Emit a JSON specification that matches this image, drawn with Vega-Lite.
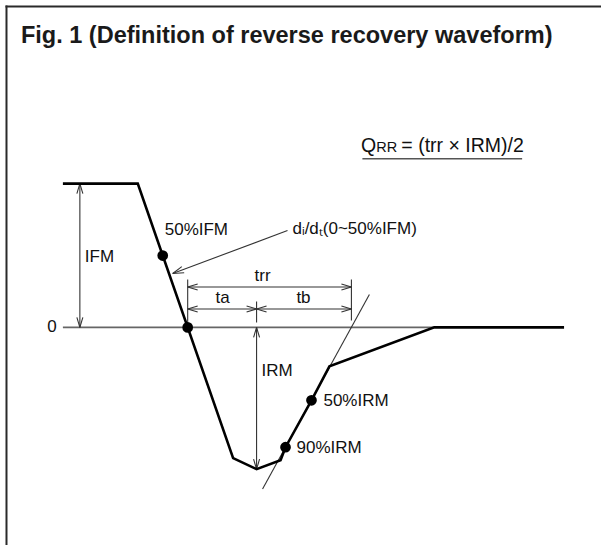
{
  "$schema": "https://vega.github.io/schema/vega-lite/v6.json",
  "width": 602,
  "height": 546,
  "autosize": {"type": "fit", "contains": "padding"},
  "padding": 0,
  "background": "white",
  "config": {"view": {"stroke": null}},
  "datasets": {
    "segs": [
      {"k": "frame", "x": 6.5, "y": 5.5, "x2": 6.5, "y2": 546},
      {"k": "frame", "x": 5.5, "y": 6.5, "x2": 602, "y2": 6.5},
      {"k": "zero", "x": 63, "y": 328, "x2": 435, "y2": 328},
      {"k": "under", "x": 363, "y": 159, "x2": 523, "y2": 159},
      {"k": "dim", "x": 80, "y": 184, "x2": 80, "y2": 328},
      {"k": "dim", "x": 80, "y": 184, "x2": 77, "y2": 194},
      {"k": "dim", "x": 80, "y": 184, "x2": 83, "y2": 194},
      {"k": "dim", "x": 80, "y": 328, "x2": 77, "y2": 318},
      {"k": "dim", "x": 80, "y": 328, "x2": 83, "y2": 318},
      {"k": "dim", "x": 257, "y": 328, "x2": 257, "y2": 470},
      {"k": "dim", "x": 257, "y": 328, "x2": 254, "y2": 338},
      {"k": "dim", "x": 257, "y": 328, "x2": 260, "y2": 338},
      {"k": "dim", "x": 257, "y": 470, "x2": 254, "y2": 460},
      {"k": "dim", "x": 257, "y": 470, "x2": 260, "y2": 460},
      {"k": "dim", "x": 188, "y": 280, "x2": 188, "y2": 324},
      {"k": "dim", "x": 352, "y": 280, "x2": 352, "y2": 321},
      {"k": "dim", "x": 257, "y": 302, "x2": 257, "y2": 323},
      {"k": "dim", "x": 188, "y": 287.5, "x2": 352, "y2": 287.5},
      {"k": "dim", "x": 188, "y": 287.5, "x2": 198, "y2": 284.5},
      {"k": "dim", "x": 188, "y": 287.5, "x2": 198, "y2": 290.5},
      {"k": "dim", "x": 352, "y": 287.5, "x2": 342, "y2": 284.5},
      {"k": "dim", "x": 352, "y": 287.5, "x2": 342, "y2": 290.5},
      {"k": "dim", "x": 188, "y": 309.5, "x2": 352, "y2": 309.5},
      {"k": "dim", "x": 188, "y": 309.5, "x2": 198, "y2": 306.5},
      {"k": "dim", "x": 188, "y": 309.5, "x2": 198, "y2": 312.5},
      {"k": "dim", "x": 257, "y": 309.5, "x2": 247, "y2": 306.5},
      {"k": "dim", "x": 257, "y": 309.5, "x2": 247, "y2": 312.5},
      {"k": "dim", "x": 257, "y": 309.5, "x2": 267, "y2": 306.5},
      {"k": "dim", "x": 257, "y": 309.5, "x2": 267, "y2": 312.5},
      {"k": "dim", "x": 352, "y": 309.5, "x2": 342, "y2": 306.5},
      {"k": "dim", "x": 352, "y": 309.5, "x2": 342, "y2": 312.5},
      {"k": "dim", "x": 288, "y": 231, "x2": 173, "y2": 274},
      {"k": "dim", "x": 173, "y": 274, "x2": 184.5, "y2": 273.2},
      {"k": "dim", "x": 173, "y": 274, "x2": 182.1, "y2": 267.1},
      {"k": "dim", "x": 370, "y": 295, "x2": 263, "y2": 490}
    ],
    "wave": [
      {"o": 1, "x": 63, "y": 184},
      {"o": 2, "x": 138, "y": 184},
      {"o": 3, "x": 233.5, "y": 459},
      {"o": 4, "x": 257, "y": 470},
      {"o": 5, "x": 281, "y": 461},
      {"o": 6, "x": 286, "y": 448},
      {"o": 7, "x": 312, "y": 401},
      {"o": 8, "x": 330, "y": 367},
      {"o": 9, "x": 435, "y": 328},
      {"o": 10, "x": 565, "y": 328}
    ],
    "dots": [
      {"x": 163, "y": 256},
      {"x": 188, "y": 328},
      {"x": 312, "y": 401},
      {"x": 286, "y": 448}
    ],
    "texts": [
      {"r": "title", "t": "Fig. 1 (Definition of reverse recovery waveform)", "x": 21, "y": 43},
      {"r": "big", "t": "Q", "x": 361.5, "y": 152},
      {"r": "small", "t": "RR", "x": 377, "y": 152},
      {"r": "big", "t": "= (trr × IRM)/2", "x": 402, "y": 152},
      {"r": "left", "t": "IFM", "x": 85, "y": 257},
      {"r": "left", "t": "50%IFM", "x": 165, "y": 230},
      {"r": "left", "t": "dᵢ/dₜ(0~50%IFM)", "x": 293, "y": 229},
      {"r": "left", "t": "IRM", "x": 262, "y": 372},
      {"r": "left", "t": "50%IRM", "x": 324, "y": 402},
      {"r": "left", "t": "90%IRM", "x": 297, "y": 449},
      {"r": "center", "t": "0", "x": 52, "y": 328},
      {"r": "center", "t": "trr", "x": 263, "y": 277},
      {"r": "center", "t": "ta", "x": 223, "y": 299},
      {"r": "center", "t": "tb", "x": 304, "y": 299}
    ]
  },
  "encoding": {
    "x": {"field": "x", "type": "quantitative", "scale": {"domain": [0, 602], "nice": false, "zero": false}, "axis": null},
    "y": {"field": "y", "type": "quantitative", "scale": {"domain": [0, 546], "nice": false, "zero": false, "reverse": true}, "axis": null}
  },
  "layer": [
    {
      "data": {"name": "segs"},
      "transform": [{"filter": "datum.k === 'frame'"}],
      "mark": {"type": "rule", "stroke": "#2a2a2a", "strokeWidth": 2},
      "encoding": {"x2": {"field": "x2"}, "y2": {"field": "y2"}}
    },
    {
      "data": {"name": "segs"},
      "transform": [{"filter": "datum.k === 'zero'"}],
      "mark": {"type": "rule", "stroke": "#666666", "strokeWidth": 1.8},
      "encoding": {"x2": {"field": "x2"}, "y2": {"field": "y2"}}
    },
    {
      "data": {"name": "segs"},
      "transform": [{"filter": "datum.k === 'under'"}],
      "mark": {"type": "rule", "stroke": "#555555", "strokeWidth": 1.5},
      "encoding": {"x2": {"field": "x2"}, "y2": {"field": "y2"}}
    },
    {
      "data": {"name": "segs"},
      "transform": [{"filter": "datum.k === 'dim'"}],
      "mark": {"type": "rule", "stroke": "#333333", "strokeWidth": 1.1},
      "encoding": {"x2": {"field": "x2"}, "y2": {"field": "y2"}}
    },
    {
      "data": {"name": "wave"},
      "mark": {"type": "line", "stroke": "#000000", "strokeWidth": 2.6, "strokeJoin": "miter"},
      "encoding": {"order": {"field": "o", "type": "quantitative"}}
    },
    {
      "data": {"name": "dots"},
      "mark": {"type": "point", "filled": true, "color": "#000000", "opacity": 1, "size": 115, "shape": "circle"},
      "encoding": {}
    },
    {
      "data": {"name": "texts"},
      "transform": [{"filter": "datum.r === 'title'"}],
      "mark": {"type": "text", "font": "Liberation Sans", "fontWeight": "bold", "fontSize": 23.5, "align": "left", "baseline": "alphabetic", "color": "#1a1a1a"},
      "encoding": {"text": {"field": "t"}}
    },
    {
      "data": {"name": "texts"},
      "transform": [{"filter": "datum.r === 'big'"}],
      "mark": {"type": "text", "font": "Liberation Sans", "fontSize": 19.5, "align": "left", "baseline": "alphabetic", "color": "#111111"},
      "encoding": {"text": {"field": "t"}}
    },
    {
      "data": {"name": "texts"},
      "transform": [{"filter": "datum.r === 'small'"}],
      "mark": {"type": "text", "font": "Liberation Sans", "fontSize": 14.5, "align": "left", "baseline": "alphabetic", "color": "#111111"},
      "encoding": {"text": {"field": "t"}}
    },
    {
      "data": {"name": "texts"},
      "transform": [{"filter": "datum.r === 'left'"}],
      "mark": {"type": "text", "font": "Liberation Sans", "fontSize": 17, "align": "left", "baseline": "middle", "color": "#111111"},
      "encoding": {"text": {"field": "t"}}
    },
    {
      "data": {"name": "texts"},
      "transform": [{"filter": "datum.r === 'center'"}],
      "mark": {"type": "text", "font": "Liberation Sans", "fontSize": 17, "align": "center", "baseline": "middle", "color": "#111111"},
      "encoding": {"text": {"field": "t"}}
    }
  ]
}
